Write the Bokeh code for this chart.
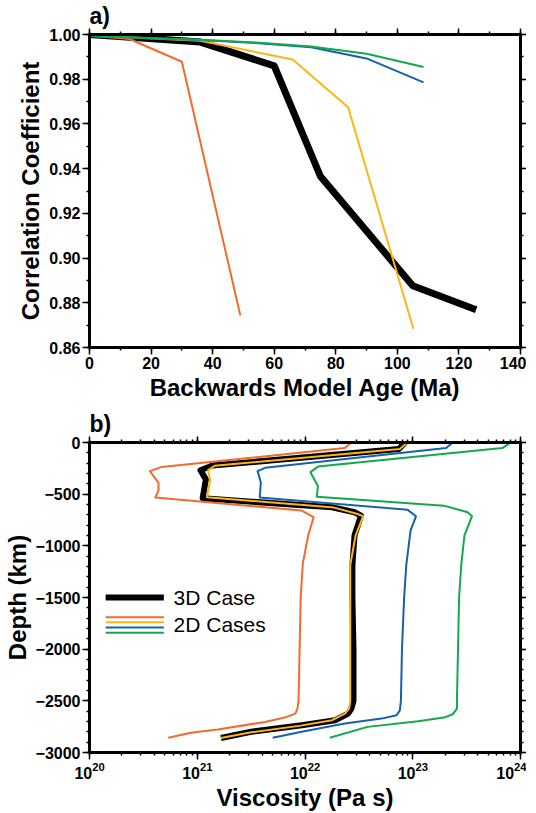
import numpy as np
from bokeh.plotting import figure
from bokeh.models import (LinearAxis, LogAxis, Range1d, NumeralTickFormatter,
                          SingleIntervalTicker, LogTicker, Label, CustomJSTickFormatter)
from bokeh.layouts import column
from bokeh.embed import file_html
from bokeh.resources import INLINE

# ---------------- Panel a data: correlation vs backwards model age ----------------
age_3d = [0, 36, 60, 75, 105, 125.6]
corr_3d = [1.000, 0.9966, 0.9860, 0.9366, 0.8876, 0.8769]
age_red = [0, 13, 30, 49]
corr_red = [0.9995, 0.9980, 0.9878, 0.8743]
age_orange = [0, 36, 66, 84, 105.2]
corr_orange = [0.9995, 0.9972, 0.9888, 0.9675, 0.8684]
age_blue = [0, 36, 54, 72, 90, 108.5]
corr_blue = [0.9993, 0.9975, 0.9962, 0.9943, 0.9893, 0.9786]
age_green = [0, 36, 54, 72, 90, 108.5]
corr_green = [0.9993, 0.9976, 0.9964, 0.9946, 0.9914, 0.9855]

# ---------------- Panel b data: viscosity profiles (log10 Pa s) vs depth ----------------
depth_3d = [0, -64, -223, -268, -357, -540, -627, -675, -707, -898, -1185, -1500, -2000,
            -2500, -2576, -2624, -2688, -2736, -2799, -2860]
logv_3d = [22.93, 22.87, 21.14, 21.03, 21.08, 21.05, 22.25, 22.46, 22.52, 22.46, 22.44, 22.44,
           22.45, 22.45, 22.43, 22.40, 22.28, 21.97, 21.50, 21.22]
depth_red = [0, -54, -236, -277, -388, -468, -532, -659, -723, -898, -1169, -1500, -2000,
             -2500, -2576, -2624, -2662, -2704, -2777, -2809, -2857]
logv_red = [22.43, 22.37, 20.67, 20.56, 20.64, 20.64, 20.61, 21.97, 22.08, 22.03, 21.98, 21.96,
            21.95, 21.94, 21.93, 21.91, 21.81, 21.63, 21.19, 20.94, 20.73]
depth_orange = [0, -64, -225, -270, -360, -530, -630, -690, -712, -898, -1185, -1500, -2000,
                -2500, -2576, -2624, -2688, -2740, -2805, -2860]
logv_orange = [22.95, 22.88, 21.16, 21.10, 21.12, 21.09, 22.27, 22.48, 22.54, 22.47, 22.42, 22.42,
               22.42, 22.42, 22.41, 22.37, 22.25, 21.96, 21.50, 21.22]
depth_blue = [0, -54, -245, -277, -388, -532, -650, -714, -850, -1185, -1500, -2000, -2500,
              -2592, -2640, -2672, -2720, -2800, -2857]
logv_blue = [23.37, 23.31, 21.63, 21.56, 21.59, 21.58, 22.95, 23.03, 22.98, 22.94, 22.92, 22.90,
             22.89, 22.88, 22.85, 22.71, 22.37, 21.97, 21.70]
depth_green = [0, -54, -233, -287, -420, -525, -611, -675, -713, -898, -1185, -1500, -2000,
               -2500, -2576, -2630, -2662, -2698, -2752, -2857]
logv_green = [23.91, 23.83, 22.12, 22.05, 22.12, 22.11, 23.29, 23.51, 23.55, 23.48, 23.45, 23.43,
              23.42, 23.41, 23.41, 23.37, 23.29, 23.05, 22.58, 22.23]

legend_labels = ["3D Case", "2D Cases"]
panel_labels = ["a)", "b)"]

# ---------------- styling ----------------
FONT = "Liberation Sans"
C_RED = "#f26a2c"
C_ORANGE = "#fdb515"
C_BLUE = "#1660ad"
C_GREEN = "#13a84e"
TWO_D = [C_RED, C_ORANGE, C_BLUE, C_GREEN]


def style_axes(p, top, right, label_standoff=2, tick_standoff=2):
    p.add_layout(top, "above")
    p.add_layout(right, "right")
    for ax in p.axis:
        ax.axis_line_width = 3
        ax.axis_line_color = "black"
        ax.major_tick_line_width = 1.5
        ax.minor_tick_line_width = 1.5
        ax.major_tick_line_color = "black"
        ax.minor_tick_line_color = "black"
        ax.major_tick_out = 7
        ax.major_tick_in = 0
        ax.minor_tick_out = 3
        ax.minor_tick_in = 0
        ax.major_label_text_font = FONT
        ax.major_label_text_font_style = "bold"
        ax.major_label_text_font_size = "16px"
        ax.major_label_text_color = "black"
        ax.major_label_standoff = tick_standoff
        ax.axis_label_text_font = FONT
        ax.axis_label_text_font_style = "bold"
        ax.axis_label_text_font_size = "24px"
        ax.axis_label_text_color = "black"
        ax.axis_label_standoff = label_standoff
    for ax in (top, right):
        ax.formatter = CustomJSTickFormatter(code="return '';")
        ax.major_label_text_font_size = "1px"
        ax.major_label_standoff = 0
        ax.major_tick_out = 6
    p.grid.visible = False
    p.outline_line_color = "black"
    p.outline_line_width = 3
    p.background_fill_color = "white"
    p.border_fill_color = "white"
    p.title.text_font = FONT
    p.title.text_font_style = "bold"
    p.title.text_font_size = "23px"
    p.title.text_color = "black"
    p.title.align = "left"
    p.title.standoff = 0


# ---------------- Panel a ----------------
pa = figure(width=526, height=408, x_range=Range1d(0, 140), y_range=Range1d(0.86, 1.0),
            output_backend="svg", toolbar_location=None, title=panel_labels[0],
            min_border_left=80, min_border_right=0, min_border_top=34, min_border_bottom=61)
xt_a = SingleIntervalTicker(interval=20, num_minor_ticks=2)
yt_a = SingleIntervalTicker(interval=0.02, num_minor_ticks=2)
pa.xaxis.ticker = xt_a
pa.yaxis.ticker = yt_a
pa.yaxis.formatter = NumeralTickFormatter(format="0.00")
pa.xaxis.axis_label = "Backwards Model Age (Ma)"
pa.yaxis.axis_label = "Correlation Coefficient"
style_axes(pa, LinearAxis(ticker=xt_a), LinearAxis(ticker=yt_a))

pa.line(age_3d, corr_3d, line_color="black", line_width=7, line_join="round")
for xs, ys, c in [(age_red, corr_red, C_RED), (age_orange, corr_orange, C_ORANGE),
                  (age_blue, corr_blue, C_BLUE), (age_green, corr_green, C_GREEN)]:
    pa.line(xs, ys, line_color=c, line_width=2, line_join="round")

# ---------------- Panel b ----------------
pb = figure(width=526, height=405, x_axis_type="log", x_range=Range1d(1e20, 1e24),
            y_range=Range1d(-3000, 0), output_backend="svg", toolbar_location=None,
            title=panel_labels[1],
            min_border_left=80, min_border_right=0, min_border_top=34, min_border_bottom=52)
xt_b = LogTicker(desired_num_ticks=5, num_minor_ticks=10)
yt_b = SingleIntervalTicker(interval=500, num_minor_ticks=5)
pb.xaxis.ticker = xt_b
pb.yaxis.ticker = yt_b
pb.yaxis.formatter = CustomJSTickFormatter(
    code="return tick == 0 ? '0' : '\\u2212' + Math.abs(tick).toFixed(0);")
pb.xaxis.axis_label = "Viscosity (Pa s)"
pb.yaxis.axis_label = "Depth (km)"
style_axes(pb, LogAxis(ticker=xt_b), LinearAxis(ticker=yt_b))
pb.xaxis[0].axis_label_standoff = 0
pb.xaxis[0].major_label_standoff = 1

pb.line([10 ** v for v in logv_3d], depth_3d, line_color="black", line_width=6, line_join="round")
for lv, d, c in [(logv_red, depth_red, C_RED), (logv_orange, depth_orange, C_ORANGE),
                 (logv_blue, depth_blue, C_BLUE), (logv_green, depth_green, C_GREEN)]:
    pb.line([10 ** v for v in lv], d, line_color=c, line_width=2, line_join="round")

# legend swatches and labels
leg_x = [10 ** 20.15, 10 ** 20.69]
pb.line(leg_x, [-1500, -1500], line_color="black", line_width=6)
for i, c in enumerate(TWO_D):
    yy = -1690 - 50 * i
    pb.line(leg_x, [yy, yy], line_color=c, line_width=2)
pb.add_layout(Label(x=10 ** 20.78, y=-1500, text=legend_labels[0], text_font=FONT,
                    text_font_size="21px", text_color="black", text_baseline="middle"))
pb.add_layout(Label(x=10 ** 20.78, y=-1765, text=legend_labels[1], text_font=FONT,
                    text_font_size="21px", text_color="black", text_baseline="middle"))

layout = column(pa, pb)
open("out.html", "w").write(file_html(layout, INLINE))
